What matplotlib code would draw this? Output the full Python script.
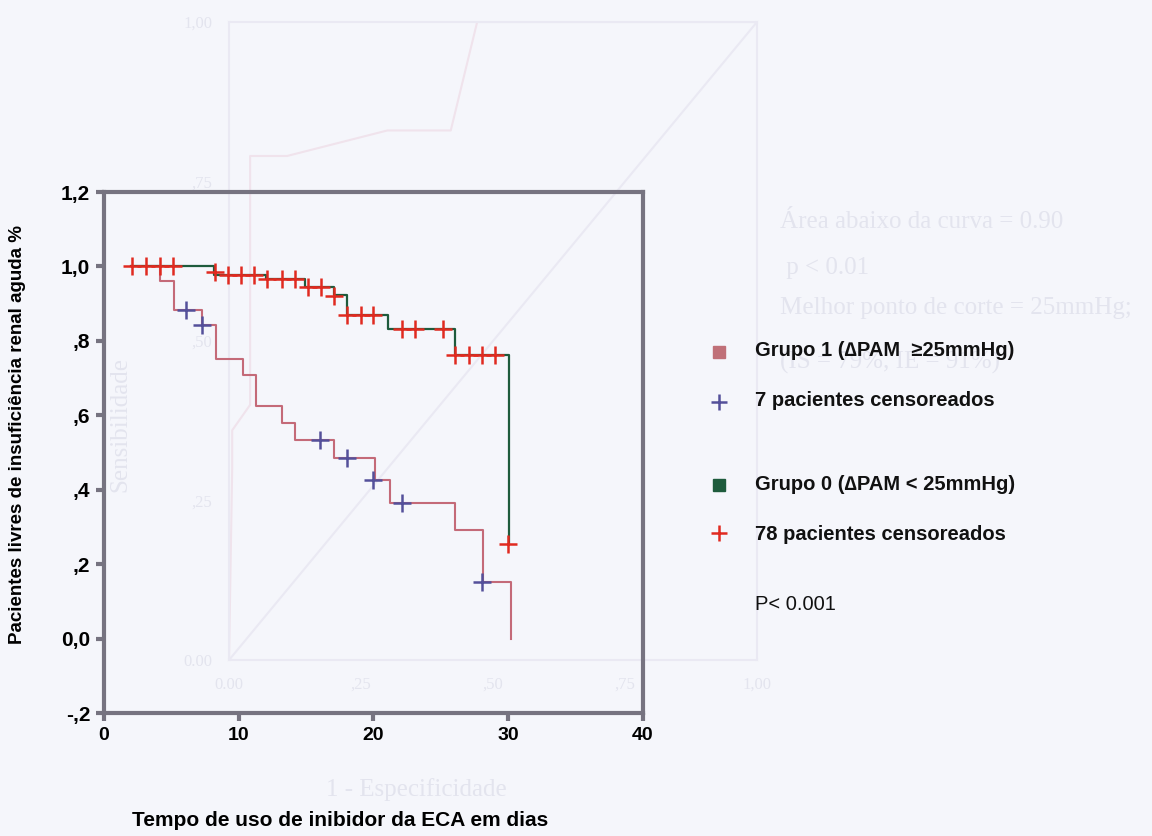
import numpy as np
import matplotlib.pyplot as plt

# Kaplan-Meier steps (days, fraction free of renal failure)
g0_times = [2.0, 8.2, 12.0, 14.9, 17.1, 18.05, 21.1, 26.05, 30.1]
g0_surv = [1.0, 0.976, 0.967, 0.945, 0.923, 0.869, 0.832, 0.763, 0.253]
g0_cens_t = [2.1, 3.1, 4.15, 5.15, 8.25, 9.2, 10.2, 11.15, 12.1, 13.2, 14.2,
             15.15, 16.1, 17.1, 18.05, 19.05, 20.0, 22.1, 23.1, 25.2,
             26.07, 27.07, 28.05, 29.0, 30.0]
g0_cens_s = [1.0, 1.0, 1.0, 1.0, 0.985, 0.976, 0.976, 0.976, 0.967, 0.967, 0.967,
             0.945, 0.945, 0.92, 0.869, 0.869, 0.869, 0.832, 0.832, 0.832,
             0.763, 0.763, 0.763, 0.763, 0.253]

g1_times = [2.0, 4.15, 5.2, 7.26, 8.31, 10.3, 11.3, 13.2, 14.2, 17.1, 20.1, 21.2, 26.07, 28.1, 30.2]
g1_surv = [1.0, 0.96, 0.883, 0.843, 0.752, 0.709, 0.625, 0.578, 0.534, 0.485, 0.427, 0.365, 0.293, 0.151, 0.0]
g1_cens_t = [6.07, 7.26, 16.07, 18.05, 20.0, 22.1, 28.05]
g1_cens_s = [0.883, 0.843, 0.534, 0.485, 0.427, 0.365, 0.151]

ytick_vals = [-0.2, 0.0, 0.2, 0.4, 0.6, 0.8, 1.0, 1.2]
ytick_labels = ['-,2', '0,0', ',2', ',4', ',6', ',8', '1,0', '1,2']
xtick_vals = [0, 10, 20, 30, 40]

# faint ROC curve showing through from the other side of the page
roc_fpr = [0.0, 0.006, 0.006, 0.04, 0.04, 0.11, 0.30, 0.42, 0.47, 1.0]
roc_tpr = [0.0, 0.30, 0.36, 0.40, 0.79, 0.79, 0.83, 0.83, 1.0, 1.0]
roc_ticks = [0.0, 0.25, 0.5, 0.75, 1.0]
roc_ticklabels = ['0.00', ',25', ',50', ',75', '1,00']
ghost_lines = ['Área abaixo da curva = 0.90', ' p < 0.01', 'Melhor ponto de corte = 25mmHg;', '(IS = 79%, IE = 91%)']
ghost_y = [222, 268, 308, 362]

bg = '#f5f6fb'
ghost = '#e3e4ee'
ghost_line = '#eae9f3'
frame = '#767380'
H = 836.0
W = 1152.0

fig = plt.figure(figsize=(11.52, 8.36), dpi=100, facecolor=bg)

# ghost layer
gax = fig.add_axes([0.1988, 0.2105, 0.4583, 0.7632], zorder=0)
gax.set_facecolor(bg)
gax.plot(roc_fpr, roc_tpr, color='#f0e3ec', lw=1.5)
gax.plot([0, 1], [0, 1], color=ghost_line, lw=1.5)
gax.set_xlim(0, 1)
gax.set_ylim(0, 1)
for s in gax.spines.values():
    s.set_color(ghost_line)
    s.set_linewidth(1.5)
gax.set_xticks(roc_ticks)
gax.set_xticklabels(roc_ticklabels, family='Liberation Serif', fontsize=12, color=ghost)
gax.set_yticks(roc_ticks)
gax.set_yticklabels(roc_ticklabels, family='Liberation Serif', fontsize=12, color=ghost)
gax.tick_params(length=0, pad=12)
fig.text(416 / W, 1 - 790 / H, '1 - Especificidade', family='Liberation Serif', fontsize=18,
         color=ghost, ha='center', va='center')
fig.text(120 / W, 1 - 425 / H, 'Sensibilidade', family='Liberation Serif', fontsize=18,
         color=ghost, ha='center', va='center', rotation=90)
for t, py in zip(ghost_lines, ghost_y):
    fig.text(780 / W, 1 - py / H, t, family='Liberation Serif', fontsize=18, color=ghost, va='center')

# main Kaplan-Meier plot
ax = fig.add_axes([0.0903, 0.1471, 0.4677, 0.6232], zorder=1)
ax.patch.set_alpha(0)
ax.step(g1_times, g1_surv, where='post', color='#c46a78', lw=1.5, zorder=2)
ax.step(g0_times, g0_surv, where='post', color='#1e5b3c', lw=1.6, zorder=3)
ax.plot(g1_cens_t, g1_cens_s, ls='none', marker='+', ms=13, mew=1.8, color='#54509a', zorder=4)
ax.plot(g0_cens_t, g0_cens_s, ls='none', marker='+', ms=13, mew=1.8, color='#e02a20', zorder=5)

ax.set_xlim(0, 40)
ax.set_ylim(-0.2, 1.2)
ax.set_xticks(xtick_vals)
ax.set_xticklabels([str(v) for v in xtick_vals], fontsize=14, fontweight='bold', family='Liberation Sans')
ax.set_yticks(ytick_vals)
ax.set_yticklabels(ytick_labels, fontsize=15, fontweight='bold', family='Liberation Sans')
ax.tick_params(direction='out', length=6, width=3, color=frame, pad=4)
for s in ax.spines.values():
    s.set_color(frame)
    s.set_linewidth(3)
fig.text(340 / W, 1 - 821 / H, 'Tempo de uso de inibidor da ECA em dias', fontsize=15, fontweight='bold',
         family='Liberation Sans', ha='center', va='center')
fig.text(18 / W, 1 - 435 / H, 'Pacientes livres de insuficiência renal aguda %', fontsize=13.5,
         fontweight='bold', family='Liberation Sans', ha='center', va='center', rotation=90)

# legend drawn by hand like the original
lx = 0.624
tx = 0.655
fig.lines.append(plt.Line2D([lx], [1 - 352 / H], marker='s', ms=8, color='#c07078', ls='none',
                            transform=fig.transFigure))
fig.lines.append(plt.Line2D([lx], [1 - 402 / H], marker='+', ms=12, mew=1.8, color='#54509a', ls='none',
                            transform=fig.transFigure))
fig.lines.append(plt.Line2D([lx], [1 - 485 / H], marker='s', ms=8, color='#1e5b3c', ls='none',
                            transform=fig.transFigure))
fig.lines.append(plt.Line2D([lx], [1 - 533 / H], marker='+', ms=12, mew=1.8, color='#e02a20', ls='none',
                            transform=fig.transFigure))
leg_texts = [('Grupo 1 (\u2206PAM  \u226525mmHg)', 350), ('7 pacientes censoreados', 400),
             ('Grupo 0 (\u2206PAM < 25mmHg)', 484), ('78 pacientes censoreados', 535)]
for t, py in leg_texts:
    fig.text(tx, 1 - py / H, t, fontsize=14.5, fontweight='bold', family='Liberation Sans',
             va='center', color='#111111')
fig.text(tx, 1 - 605 / H, 'P< 0.001', fontsize=14.5, family='Liberation Sans', va='center', color='#111111')

fig.savefig('out.png', dpi=100, facecolor=bg)
